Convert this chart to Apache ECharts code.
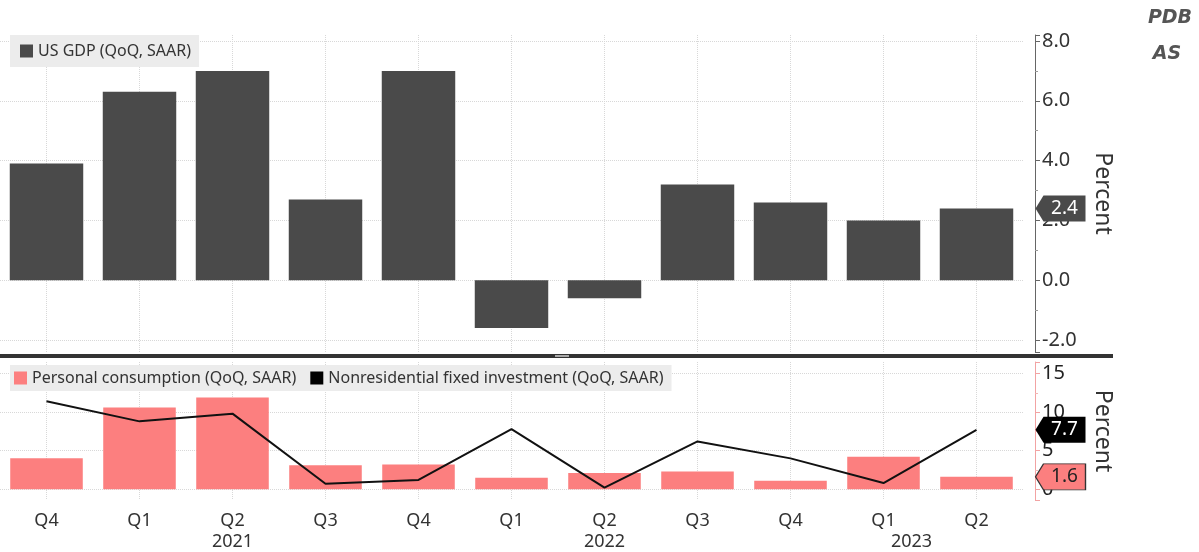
<!DOCTYPE html>
<html>
<head>
<meta charset="utf-8">
<script src="https://cdn.jsdelivr.net/npm/echarts@6/dist/echarts.min.js"></script>
<style>
html, body { margin: 0; padding: 0; background: #fff; }
#main { width: 1199px; height: 552px; }
</style>
</head>
<body>
<div id="main"></div>
<script>
var quarters = ['2020 Q4', '2021 Q1', '2021 Q2', '2021 Q3', '2021 Q4', '2022 Q1', '2022 Q2', '2022 Q3', '2022 Q4', '2023 Q1', '2023 Q2'];
var yearAt = ['2021 Q2', '2022 Q2', '2023 Q1'];
var gdp = [3.9, 6.3, 7.0, 2.7, 7.0, -1.6, -0.6, 3.2, 2.6, 2.0, 2.4];
var consumption = [4.0, 10.6, 11.9, 3.1, 3.2, 1.5, 2.1, 2.3, 1.1, 4.2, 1.6];
var investment = [11.4, 8.8, 9.8, 0.7, 1.2, 7.8, 0.2, 6.2, 4.0, 0.8, 7.7];

var font = 'Noto Sans';
var gridColor = '#d8d8d8';
var tagPath = 'path://M0,13 L8,0 L50,0 L50,26 L8,26 Z';
var last = quarters[quarters.length - 1];

var myChart = echarts.init(document.getElementById('main'));

function tag(value, fill, textColor, border) {
	return {
		symbol: tagPath,
		symbolSize: [50, 26],
		symbolOffset: [84, 0],
		symbolKeepAspect: false,
		itemStyle: { color: fill, borderColor: border || fill, borderWidth: border ? 1 : 0 },
		label: { show: true, position: 'inside', offset: [4, 0], color: textColor, fontSize: 19, fontFamily: font, formatter: '' + value },
		data: [{ coord: [last, value] }],
		silent: true
	};
}

var option = {
	backgroundColor: '#fff',
	animation: false,
	grid: [
		{ left: 0, top: 35, width: 1023, height: 317 },
		{ left: 0, top: 362, width: 1023, height: 141 }
	],
	legend: [{
		data: ['US GDP (QoQ, SAAR)'],
		left: 10, top: 35,
		backgroundColor: '#ececec',
		padding: [8, 8, 8, 10],
		icon: 'rect', itemWidth: 13, itemHeight: 13,
		textStyle: { fontFamily: font, fontSize: 16, color: '#333' }
	}, {
		data: ['Personal consumption (QoQ, SAAR)', 'Nonresidential fixed investment (QoQ, SAAR)'],
		left: 10, top: 365,
		backgroundColor: '#ececec',
		padding: [5, 8, 5, 4],
		itemGap: 14,
		icon: 'rect', itemWidth: 13, itemHeight: 13,
		textStyle: { fontFamily: font, fontSize: 16, color: '#333' }
	}],
	xAxis: [{
		type: 'category', gridIndex: 0, data: quarters,
		axisLine: { show: false }, axisTick: { show: false }, axisLabel: { show: false },
		splitLine: { show: true, interval: 0, alignWithLabel: true, lineStyle: { color: gridColor, type: 'dotted' } }
	}, {
		type: 'category', gridIndex: 1, data: quarters,
		axisLine: { show: false }, axisTick: { show: false },
		axisLabel: {
			interval: 0, margin: 10, fontFamily: font, fontSize: 18, color: '#333', lineHeight: 21,
			formatter: function (v) {
				var p = v.split(' ');
				if (yearAt.indexOf(v) < 0) return p[1];
				return p[1] + '\n' + (v === '2023 Q1' ? '{shift|' + p[0] + '}' : p[0]);
			},
			rich: { shift: { padding: [0, 0, 0, 56], fontFamily: font, fontSize: 18, color: '#333', lineHeight: 21 } }
		},
		splitLine: { show: true, interval: 0, alignWithLabel: true, lineStyle: { color: gridColor, type: 'dotted' } }
	}],
	yAxis: [{
		type: 'value', gridIndex: 0, position: 'right', offset: 12,
		min: -2.4, max: 8.2, splitNumber: 5,
		name: 'Percent', nameLocation: 'middle', nameRotate: -90, nameGap: 56,
		nameTextStyle: { fontFamily: font, fontSize: 23, color: '#333' },
		axisLine: { show: true, lineStyle: { color: '#666' } },
		axisTick: { show: true, length: 5, lineStyle: { color: '#666' } },
		minorTick: { show: true, splitNumber: 2, length: 3, lineStyle: { color: '#999' } },
		axisLabel: {
			margin: 7, fontFamily: font, fontSize: 20, color: '#333',
			showMinLabel: false, showMaxLabel: false,
			formatter: function (v) { return v.toFixed(1); }
		},
		splitLine: { show: true, lineStyle: { color: ['transparent', gridColor, gridColor, gridColor, gridColor, gridColor, gridColor, 'transparent'], type: 'dotted' } }
	}, {
		type: 'value', gridIndex: 1, position: 'right', offset: 12,
		min: -1.4, max: 16.5, splitNumber: 4,
		name: 'Percent', nameLocation: 'middle', nameRotate: -90, nameGap: 56,
		nameTextStyle: { fontFamily: font, fontSize: 23, color: '#333' },
		axisLine: { show: true, lineStyle: { color: '#f2a3a3' } },
		axisTick: { show: true, length: 5, lineStyle: { color: '#f2a3a3' } },
		minorTick: { show: true, splitNumber: 2, length: 3, lineStyle: { color: '#f2b5b5' } },
		axisLabel: {
			margin: 7, fontFamily: font, fontSize: 20, color: '#222',
			showMinLabel: false, showMaxLabel: false
		},
		splitLine: { show: true, lineStyle: { color: ['transparent', gridColor, gridColor, gridColor, gridColor, 'transparent'], type: 'dotted' } }
	}],
	series: [{
		name: 'US GDP (QoQ, SAAR)', type: 'bar', xAxisIndex: 0, yAxisIndex: 0,
		data: gdp, barCategoryGap: '21%',
		itemStyle: { color: '#4a4a4a' },
		markPoint: tag(gdp[gdp.length - 1], '#4a4a4a', '#fff')
	}, {
		name: 'Personal consumption (QoQ, SAAR)', type: 'bar', xAxisIndex: 1, yAxisIndex: 1,
		data: consumption, barCategoryGap: '22%',
		itemStyle: { color: '#fc7f7f' },
		markPoint: tag(consumption[consumption.length - 1], '#fc7f7f', '#222', '#333')
	}, {
		name: 'Nonresidential fixed investment (QoQ, SAAR)', type: 'line', xAxisIndex: 1, yAxisIndex: 1,
		data: investment, showSymbol: false, symbol: 'none',
		itemStyle: { color: '#000' },
		lineStyle: { color: '#111', width: 2 },
		markPoint: tag(investment[investment.length - 1], '#000', '#fff')
	}],
	graphic: [
		{ type: 'rect', shape: { x: 0, y: 354, width: 1113, height: 4 }, style: { fill: '#333' }, silent: true },
		{ type: 'rect', shape: { x: 555, y: 355, width: 14, height: 2 }, style: { fill: '#aaa' }, silent: true },
		{ type: 'text', x: 1170, y: 18, style: { text: 'PDB', fill: '#555', font: 'italic bold 19px "DejaVu Sans"', textAlign: 'center', textVerticalAlign: 'middle' } },
		{ type: 'text', x: 1167, y: 54, style: { text: 'AS', fill: '#555', font: 'italic bold 19px "DejaVu Sans"', textAlign: 'center', textVerticalAlign: 'middle' } }
	]
};
myChart.setOption(option);
</script>
</body>
</html>
